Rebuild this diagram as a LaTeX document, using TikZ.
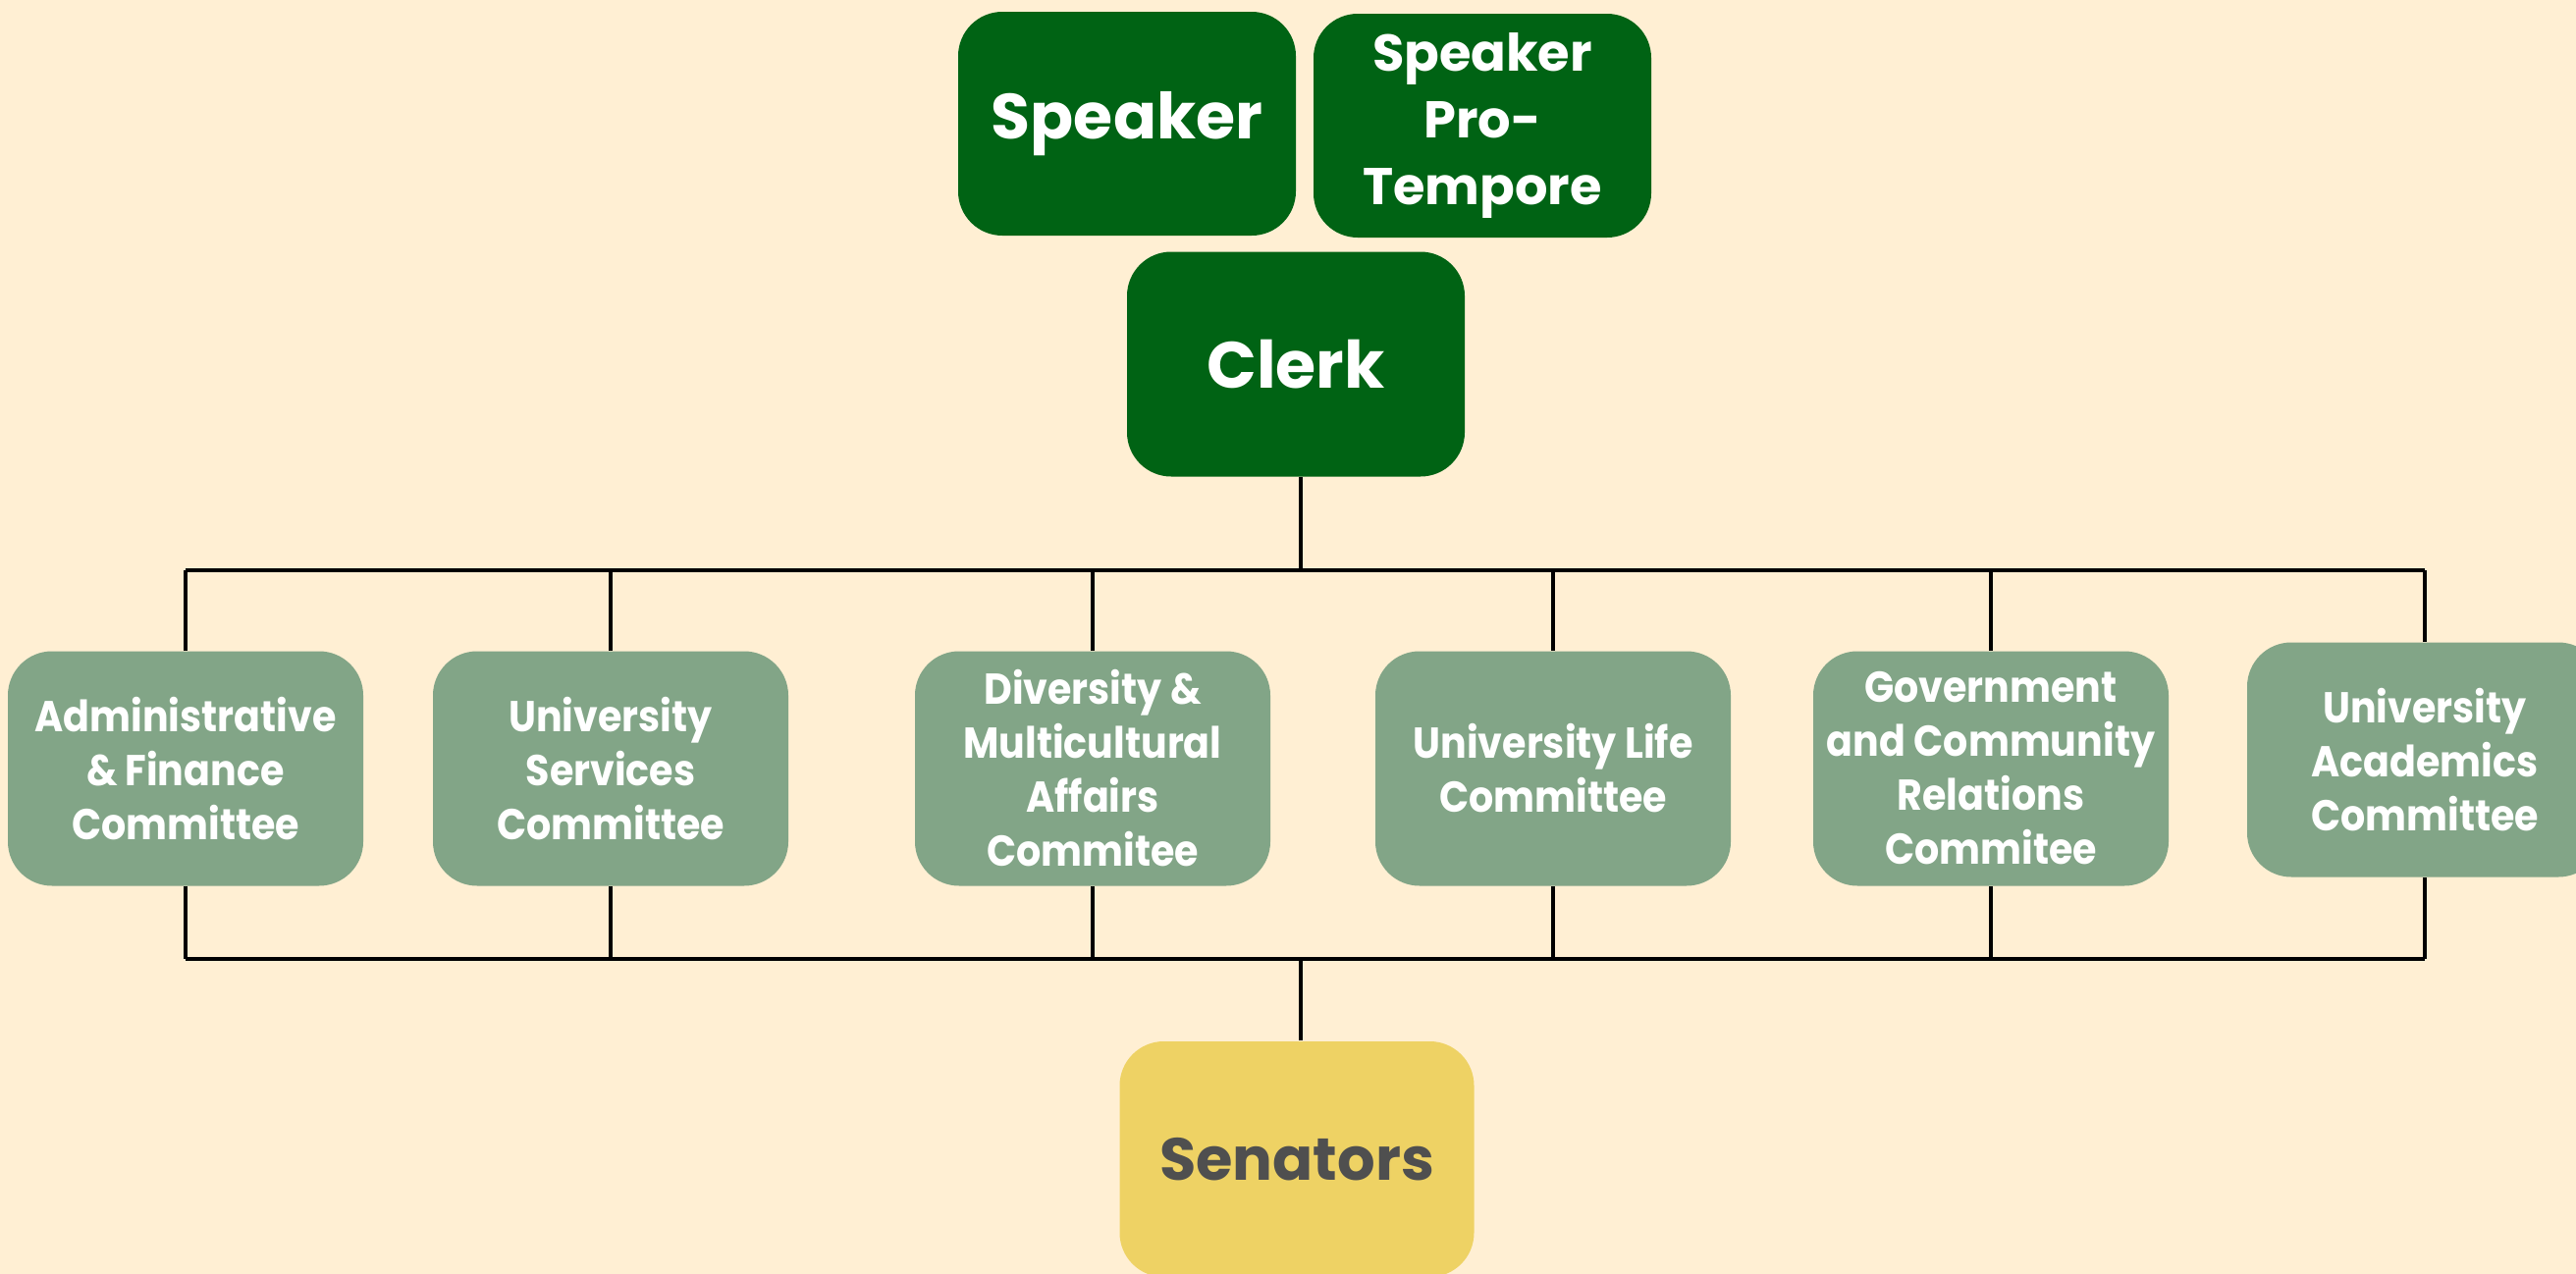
\documentclass[tikz,border=0pt]{standalone}
\usepackage{fontspec}
\setmainfont{Poppins}
\newfontfamily\condf{Poppins}[FakeStretch=0.9]
\definecolor{bgc}{HTML}{FFEFD3}
\definecolor{dkgreen}{HTML}{006314}
\definecolor{sage}{HTML}{82A587}
\definecolor{gold}{HTML}{EED264}
\definecolor{slate}{HTML}{4F4F4F}
\tikzset{
  topbox/.style={fill=dkgreen, text=white, rounded corners=13.5pt, inner sep=0pt,
    minimum width=344*0.3pt, minimum height=228*0.3pt, align=center, font=\bfseries},
  combox/.style={fill=sage, text=white, rounded corners=13.5pt, inner sep=0pt,
    minimum width=362*0.3pt, minimum height=239*0.3pt, align=center,
    font=\condf\bfseries\fontsize{13.2}{16.5}\selectfont},
  senbox/.style={fill=gold, text=slate, rounded corners=13.5pt, inner sep=0pt,
    minimum width=361*0.3pt, minimum height=240*0.3pt, align=center,
    font=\bfseries\fontsize{18.2}{24}\selectfont},
  wire/.style={draw=black, line width=1.05pt}
}
\begin{document}
\begin{tikzpicture}[x=0.3pt,y=-0.3pt]
\clip (0,0) rectangle (2624,1298);
\fill[bgc] (0,0) rectangle (2624,1298);
\node[topbox, font=\bfseries\fontsize{19.5}{24}\selectfont] (spk) at (1148,126) {Speaker};
\node[topbox, font=\bfseries\fontsize{15.8}{20.5}\selectfont] (pro) at (1510,128) {Speaker\\Pro-\\Tempore};
\node[topbox, font=\bfseries\fontsize{20}{24}\selectfont, minimum height=229*0.3pt] (clerk) at (1320,371) {Clerk};
\node[combox] (adm) at (189,783) {Administrative\\\&\,Finance\\Committee};
\node[combox] (us) at (622,783) {University\\Services\\Committee};
\node[combox] (div) at (1113,783) {Diversity \&\\Multicultural\\Affairs\\Commitee};
\node[combox] (ul) at (1582,783) {University Life\\Committee};
\node[combox] (gov) at (2028,783) {Government\\and Community\\Relations\\Commitee};
\node[combox] (acad) at (2470,774) {University\\Academics\\Committee};
\node[senbox] (sen) at (1321,1181) {Senators};
\coordinate (bus1) at (1325,581);
\coordinate (bus2) at (1325,977);
\draw[wire] (bus1 |- clerk.south) -- (bus1);
\draw[wire] (adm.north |- bus1) -- (acad.north |- bus1);
\foreach \n in {adm,us,div,ul,gov,acad}{
  \draw[wire] (\n.north) -- (\n.north |- bus1);
  \draw[wire] (\n.south) -- (\n.south |- bus2);
}
\draw[wire] (adm.south |- bus2) -- (acad.south |- bus2);
\draw[wire] (bus2) -- (bus2 |- sen.north);
\end{tikzpicture}
\end{document}
